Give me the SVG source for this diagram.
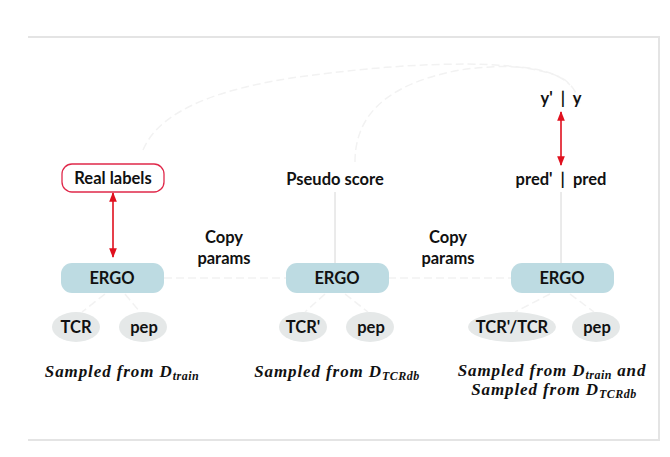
<svg xmlns="http://www.w3.org/2000/svg" width="670" height="457" viewBox="0 0 670 457">
<style>
.lbl{font-family:Lato,"Open Sans","Liberation Sans",sans-serif;font-weight:bold;font-size:16.5px;fill:#111;text-anchor:middle}
.ergo{fill:#bddbe2}
.leaf{fill:#e5e8e8}
.math{font-family:"Liberation Serif","DejaVu Serif",serif;font-style:italic;font-weight:bold;font-size:17px;letter-spacing:0.9px;fill:#111;text-anchor:middle}
.sub{font-size:12px;letter-spacing:0.5px}
.faint{fill:none;stroke:#f2f2f2;stroke-width:1.5;stroke-dasharray:8 4}
.thin{fill:none;stroke:#d6d6d6;stroke-width:1}
.red{stroke:#e0101e;stroke-width:1.6;fill:none}
</style>
<defs>
<marker id="ah" viewBox="0 0 10 10" refX="9" refY="5" markerWidth="6" markerHeight="6" orient="auto-start-reverse">
<path d="M0,1 L10,5 L0,9 z" fill="#e0101e"/>
</marker>
</defs>
<rect x="0" y="0" width="670" height="457" fill="#fff"/>
<path d="M28,37 H659 V440 H28" fill="none" stroke="#e4e4e4" stroke-width="2"/>
<g id="connectors">
<path class="faint" d="M143,150 C160,110 220,85 330,73 C420,62 530,58 565,80 C575,88 578,96 580,105"/>
<path class="faint" d="M355,162 C355,120 380,85 460,70 C500,64 550,64 570,85"/>
<path class="faint" d="M164,278 H287"/>
<path class="faint" d="M388,278 H512"/>
<path class="thin" d="M335,192 V263"/>
<path class="thin" d="M561,192 V263"/>
<path class="faint" d="M105,294 L82,312 M125,294 L140,312"/>
<path class="faint" d="M325,294 L305,312 M345,294 L368,312"/>
<path class="faint" d="M550,294 L515,312 M570,294 L594,312"/>
<line class="red" x1="113" y1="193" x2="113" y2="257" marker-start="url(#ah)" marker-end="url(#ah)"/>
<line class="red" x1="561" y1="112" x2="561" y2="165" marker-start="url(#ah)" marker-end="url(#ah)"/>
</g>
<g id="real-labels">
<rect x="62" y="164" width="102" height="28" rx="10" fill="#fff" stroke="#e0284a" stroke-width="1.3"/>
<text class="lbl" x="113" y="184">Real labels</text>
</g>
<g id="pseudo-score"><text class="lbl" x="335" y="185">Pseudo score</text></g>
<g id="pred"><text class="lbl" x="561" y="185" xml:space="preserve">pred'  |  pred</text></g>
<g id="y"><text class="lbl" x="561" y="104" xml:space="preserve">y'  |  y</text></g>
<g id="copy1"><text class="lbl" x="224" y="243">Copy</text><text class="lbl" x="224" y="264">params</text></g>
<g id="copy2"><text class="lbl" x="448" y="243">Copy</text><text class="lbl" x="448" y="264">params</text></g>
<g id="ergo1"><rect class="ergo" x="61" y="263" width="103" height="30" rx="11"/><text class="lbl" x="112" y="284">ERGO</text></g>
<g id="ergo2"><rect class="ergo" x="286" y="263" width="103" height="30" rx="11"/><text class="lbl" x="337" y="284">ERGO</text></g>
<g id="ergo3"><rect class="ergo" x="511" y="263" width="103" height="30" rx="11"/><text class="lbl" x="562" y="284">ERGO</text></g>
<g id="tcr1"><ellipse class="leaf" cx="76" cy="327" rx="24" ry="15"/><text class="lbl" x="76" y="333">TCR</text></g>
<g id="pep1"><ellipse class="leaf" cx="143" cy="327" rx="24" ry="15"/><text class="lbl" x="144" y="333">pep</text></g>
<g id="tcr2"><ellipse class="leaf" cx="303" cy="327" rx="24" ry="15"/><text class="lbl" x="303" y="333">TCR'</text></g>
<g id="pep2"><ellipse class="leaf" cx="370" cy="327" rx="24" ry="15"/><text class="lbl" x="371" y="333">pep</text></g>
<g id="tcr3"><ellipse class="leaf" cx="512" cy="327" rx="44" ry="15"/><text class="lbl" x="512" y="333">TCR'/TCR</text></g>
<g id="pep3"><ellipse class="leaf" cx="596" cy="327" rx="24" ry="15"/><text class="lbl" x="597" y="333">pep</text></g>
<g id="cap1"><text class="math" x="122" y="377">Sampled from D<tspan class="sub" dy="3">train</tspan></text></g>
<g id="cap2"><text class="math" x="337" y="377">Sampled from D<tspan class="sub" dy="3">TCRdb</tspan></text></g>
<g id="cap3"><text class="math" x="552" y="376">Sampled from D<tspan class="sub" dy="3">train</tspan><tspan dy="-3"> and</tspan></text><text class="math" x="554" y="395">Sampled from D<tspan class="sub" dy="3">TCRdb</tspan></text></g>
</svg>
